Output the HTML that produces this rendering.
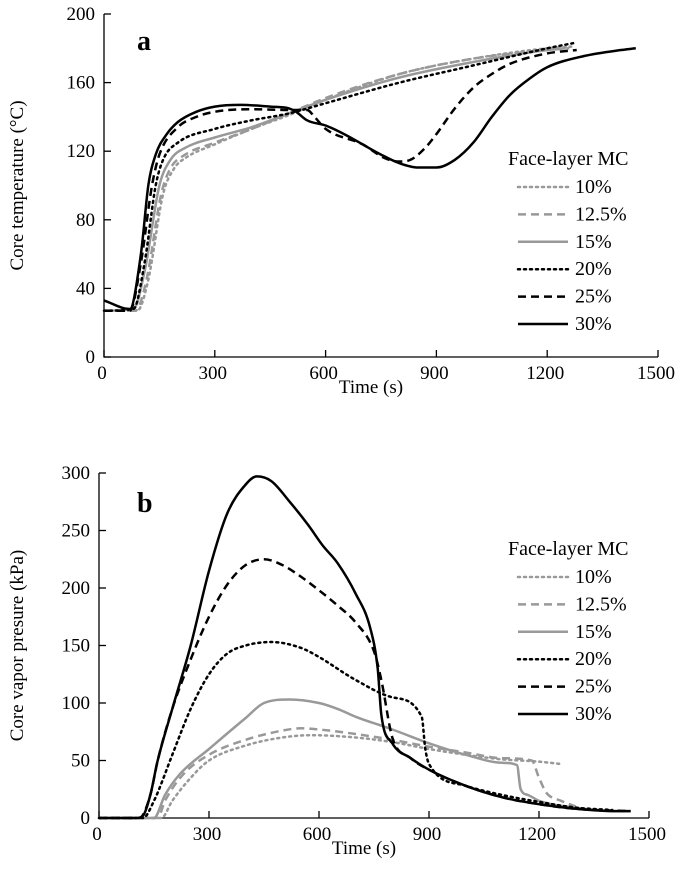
<!DOCTYPE html>
<html><head><meta charset="utf-8"><style>
html,body{margin:0;padding:0;background:#fff;}
svg{display:block;font-family:"Liberation Serif",serif;}
</style></head><body>
<svg id="c" width="685" height="889" viewBox="0 0 685 889" xmlns="http://www.w3.org/2000/svg"></svg>
<script>
// ---- Panel a data (time s, core temperature °C) ----
const a10=[[0,27],[90,27],[120,45],[160,95],[190,110],[220,116],[300,124],[400,133],[500,141],[600,150],[800,165],[1000,174],[1200,180],[1265,181]];
const a125=[[0,27],[85,27],[115,45],[155,95],[180,110],[220,118],[300,125],[400,133],[500,142],[600,151],[800,165],[1000,174],[1200,179],[1260,180]];
const a15=[[0,27],[80,28],[110,50],[150,100],[180,115],[220,122],[300,128],[400,134],[500,142],[600,150],[800,163],[1000,172],[1200,179],[1250,180]];
const a20=[[0,27],[80,28],[110,55],[140,100],[160,115],[200,125],[300,133],[400,138],[500,142],[600,148],[800,160],[1000,170],[1200,180],[1270,183]];
const a25=[[0,27],[70,27],[100,55],[130,100],[150,118],[200,134],[250,140],[300,143],[400,144.5],[500,144],[550,144],[570,140],[600,133],[700,124],[760,116],[800,114],[830,115],[870,122],[900,130],[950,145],[1000,157],[1050,165],[1100,171],[1200,177],[1280,179]];
const a30=[[0,33],[70,28],[100,60],[120,100],[140,118],[170,130],[200,137],[250,143],[300,146],[370,147],[450,146],[500,145],[520,143],[550,138],[600,135],[650,130],[700,124],[750,118],[800,113],[850,110.5],[900,110.5],[950,115],[1000,125],[1050,140],[1100,153],[1150,162],[1200,169],[1300,175.5],[1400,179],[1440,180]];
const aYTicks=[0,40,80,120,160,200];
const xTicks=[0,300,600,900,1200,1500];
// ---- Panel b data (time s, core vapor pressure kPa) ----
const b10=[[0,0],[170,0],[200,15],[250,35],[300,50],[400,63],[500,70],[580,72],[700,70],[800,66],[900,60],[1000,55],[1100,51],[1200,49],[1260,47]];
const b125=[[0,0],[160,0],[180,15],[230,38],[300,55],[400,68],[500,76],[550,78],[600,77],[700,73],[800,68],[900,62],[1000,57],[1100,52],[1180,50],[1200,35],[1220,22],[1260,15],[1300,10]];
const b15=[[0,0],[150,0],[180,20],[220,38],[300,60],[400,87],[450,100],[520,103],[600,100],[650,95],[700,88],[800,77],[900,65],[1000,55],[1100,48],[1140,46],[1150,25],[1170,20],[1200,15],[1300,9],[1400,6],[1450,6]];
const b20=[[0,0],[120,0],[150,15],[200,55],[250,95],[300,125],[350,143],[400,150],[470,153],[550,148],[600,140],[700,120],[800,105],[880,88],[890,60],[900,47],[1000,28],[1100,20],[1200,14],[1300,9],[1400,7]];
const b25=[[0,0],[110,0],[140,20],[160,50],[200,95],[250,138],[300,175],[350,203],[400,220],[450,225],[500,220],[550,210],[600,198],[650,185],[700,170],[750,145],[770,120],[800,70],[850,52],[900,42],[1000,28],[1100,18],[1200,12],[1300,8],[1440,6]];
const b30=[[0,0],[100,0],[120,2],[140,20],[160,50],[200,95],[250,150],[300,215],[350,265],[400,290],[430,297],[470,293],[520,275],[570,255],[610,237],[650,222],[700,195],[740,165],[760,130],[770,90],[800,65],[850,52],[900,42],[1000,28],[1100,18],[1200,12],[1300,8],[1400,6],[1450,6]];
const bYTicks=[0,50,100,150,200,250,300];
const legendLabels=["10%","12.5%","15%","20%","25%","30%"];

const NS="http://www.w3.org/2000/svg";
const svg=document.getElementById('c');
function mk(tag,attrs,parent){const e=document.createElementNS(NS,tag);for(const k in attrs)e.setAttribute(k,attrs[k]);(parent||svg).appendChild(e);return e;}
const styles=[
 {stroke:"#999",dash:"2,4",cap:"round"},
 {stroke:"#999",dash:"8,5",cap:"butt"},
 {stroke:"#999",dash:"",cap:"butt"},
 {stroke:"#000",dash:"2,4",cap:"round"},
 {stroke:"#000",dash:"8,5",cap:"butt"},
 {stroke:"#000",dash:"",cap:"butt"}];

function smoothPath(P){
 const n=P.length;if(n<3)return 'M'+P.map(p=>p.join(',')).join('L');
 const d=[],m=new Array(n);
 for(let i=0;i<n-1;i++)d.push((P[i+1][1]-P[i][1])/(P[i+1][0]-P[i][0]));
 m[0]=d[0];m[n-1]=d[n-2];
 for(let i=1;i<n-1;i++){m[i]=(d[i-1]*d[i]<=0)?0:(d[i-1]+d[i])/2;}
 for(let i=0;i<n-1;i++){
  if(d[i]===0){m[i]=0;m[i+1]=0;continue;}
  const a=m[i]/d[i],b=m[i+1]/d[i],s=a*a+b*b;
  if(s>9){const t=3/Math.sqrt(s);m[i]=t*a*d[i];m[i+1]=t*b*d[i];}
 }
 let s='M'+P[0][0].toFixed(1)+','+P[0][1].toFixed(1);
 for(let i=0;i<n-1;i++){
  const h=(P[i+1][0]-P[i][0])/3;
  s+=`C${(P[i][0]+h).toFixed(1)},${(P[i][1]+m[i]*h).toFixed(1)} ${(P[i+1][0]-h).toFixed(1)},${(P[i+1][1]-m[i+1]*h).toFixed(1)} ${P[i+1][0].toFixed(1)},${P[i+1][1].toFixed(1)}`;
 }
 return s;
}

function panel(p){
 const g=mk('g',{});
 
 
 const X=t=>p.x0+t*(p.x1-p.x0)/1500;
 const Y=v=>p.y0-v*(p.y0-p.y1)/p.ymax;
 const ax=mk('path',{d:`M${p.x0},${p.y1}V${p.y0}H${p.x1}`,fill:'none',stroke:'#000','stroke-width':1.3},g);
 
 
 xTicks.forEach(t=>{
  mk('line',{x1:X(t),x2:X(t),y1:p.y0,y2:p.y0-7,stroke:'#000','stroke-width':1.3},g);
  const tx=mk('text',{x:X(t)-2,y:p.y0+22,'text-anchor':'middle','font-size':19},g);
  tx.textContent=t;
  
  
 });
 p.yt.forEach(v=>{
  mk('line',{x1:p.x0,x2:p.x0+7,y1:Y(v),y2:Y(v),stroke:'#000','stroke-width':1.3},g);
  const tx=mk('text',{x:p.x0-9,y:Y(v)+6,'text-anchor':'end','font-size':19},g);
  tx.textContent=v;
  
  
 });
 const xt=mk('text',{x:(p.x0+p.x1)/2-10,y:p.y0+36,'text-anchor':'middle','font-size':19},g);
 xt.textContent='Time (s)';
 
 
 const yt=mk('text',{transform:`translate(${p.ytx},${(p.y0+p.y1)/2}) rotate(-90)`,'text-anchor':'middle','font-size':19},g);
 yt.textContent=p.ytitle;
 
 
 const lt=mk('text',{x:p.lx,y:p.ly,'font-size':28,'font-weight':'bold'},g);
 lt.textContent=p.letter;
 
 
 p.series.forEach((s,i)=>{
  const st=styles[i];
  const pts=s.map(d=>[X(d[0]),Y(d[1])]);
  const pl=mk('path',{d:smoothPath(pts),fill:'none',stroke:st.stroke,'stroke-width':2.5,'stroke-dasharray':st.dash,'stroke-linecap':st.cap,'stroke-linejoin':'round'},g);
  
  
 });
 const lg=mk('g',{},g);
 
 
 const tt=mk('text',{x:p.legx-10,y:p.legy,'font-size':20},lg);
 tt.textContent='Face-layer MC';
 legendLabels.forEach((l,i)=>{
  const st=styles[i];const yy=p.legy+28+i*27.4;
  const e=mk('g',{},lg);
  
  
  mk('line',{x1:p.legx,x2:p.legx+50,y1:yy-6,y2:yy-6,stroke:st.stroke,'stroke-width':2.5,'stroke-dasharray':st.dash,'stroke-linecap':st.cap},e);
  const t=mk('text',{x:p.legx+57,y:yy,'font-size':20},e);t.textContent=l;
 });
}
panel({name:'panel-a-temperature',x0:104,x1:658,y0:357,y1:14,ymax:200,yt:aYTicks,ytitle:'Core temperature (°C)',ytx:23,letter:'a',lx:137,ly:50,legx:518,legy:165,series:[a10,a125,a15,a20,a25,a30]});
panel({name:'panel-b-pressure',x0:99,x1:649,y0:818,y1:473,ymax:300,yt:bYTicks,ytitle:'Core vapor presure (kPa)',ytx:23,letter:'b',lx:137,ly:512,legx:518,legy:555,series:[b10,b125,b15,b20,b25,b30]});
</script>
</body></html>
